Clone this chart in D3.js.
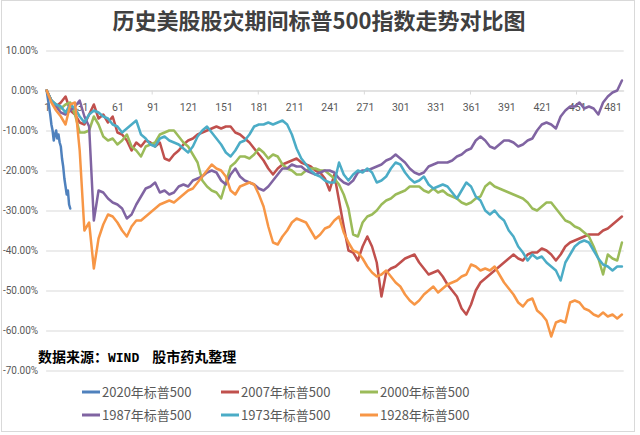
<!DOCTYPE html>
<html><head><meta charset="utf-8">
<script src="https://cdn.jsdelivr.net/npm/d3@7"></script>
<style>
body{margin:0;background:#fff;}
svg{display:block;font-family:"Noto Sans CJK SC","Noto Sans",sans-serif;}
</style>
</head><body><svg id="c" width="640" height="435"></svg>
<script>
const title = "历史美股股灾期间标普500指数走势对比图";
const sourceParts = ["数据来源：", "WIND", "股市药丸整理"];
const seriesNames = ["2020年标普500","2007年标普500","2000年标普500","1987年标普500","1973年标普500","1928年标普500"];
const seriesColors = ["#4F81BD","#C0504D","#9BBB59","#8064A2","#4BACC6","#F79646"];
const yTicks = [10,0,-10,-20,-30,-40,-50,-60,-70];
const xTickLabels = [1,31,61,91,121,151,181,211,241,271,301,331,361,391,421,451,481];
const dayCount = 490;
// 2020: daily values; others: one value every 4 trading days (day 1, 5, 9, ...)
const seriesSteps = [1,4,4,4,4,4];

const s2020 = [0,-2,-4,-6,-8.5,-10,-12.5,-11,-10,-12,-11,-13,-14,-17,-19,-22,-24,-26,-25,-28.5,-29.5];
const s2007 = [0,-2.5,-4,-3,-1.5,-5,-6,-8,-8.5,-6,
 -3.5,-7,-6,-8,-6.5,-10.5,-11,-12.5,-15,-13,
 -14,-12.5,-13,-14,-13,-17,-17.5,-16,-15,-13.5,
 -12.5,-12,-11,-10.5,-10,-9.5,-9,-9.5,-9,-9,
 -10.5,-11,-12,-13,-14.5,-16,-17.5,-19.5,-21,-19.5,
 -18.5,-18,-17.5,-17,-18,-18.5,-19,-20,-20.5,-22,
 -25,-21,-27.5,-34,-40,-40.5,-42.5,-39,-36.5,-39,
 -43,-51.5,-45.5,-44.5,-44,-43,-42,-41.5,-41,-43,
 -44.5,-46,-45.5,-45,-46.5,-48.5,-50,-51.5,-54.5,-56,
 -53.5,-50,-48,-47,-46,-45,-44,-43,-42,-41,
 -42,-42.5,-41,-40.5,-40.5,-39.5,-40,-41,-42.5,-41,
 -39,-38,-37.5,-37,-36.5,-36,-36,-36,-35,-34.5,
 -33.5,-32.5,-31.5];
const s2000 = [0,-2.5,-3.5,-4.5,-3.5,-3,-6,-10.5,-10.5,-10,
 -6.5,-8.5,-11.5,-12.5,-12,-13.5,-12.5,-11,-14,-15,
 -16.5,-14,-13.5,-13,-11,-10.5,-10,-10,-11.5,-13,
 -14,-16,-18,-22.5,-24,-25,-25.5,-27,-23,-19,
 -18,-16.5,-16.5,-17,-16,-14.5,-15.5,-17,-16,-16.5,
 -18.5,-19.5,-20,-21,-21,-20,-19.5,-19.5,-20,-20,
 -21,-22,-23.5,-26,-29.5,-36,-36.5,-33,-31.5,-31,
 -30,-28.5,-27.5,-27,-26,-25.5,-25,-24,-24,-24,
 -25,-25.5,-24.5,-25.5,-25,-26,-26.5,-27,-28,-28.5,
 -28,-27,-26.5,-24,-23,-24,-24.5,-25,-25.5,-26,
 -26.5,-27,-28,-29.5,-30,-29,-28,-28,-29.5,-31,
 -32.5,-33,-34,-34.5,-35.5,-36.5,-39,-42,-46,-41,
 -42,-42.5,-38];
const s1987 = [0,-2.5,-4,-5.5,-6,-5,-4,-2.5,-6.5,-9,
 -32.5,-25,-25.5,-27,-28,-28.5,-29.5,-32,-31,-28.5,
 -26.5,-24.5,-24,-23,-25.5,-25,-26,-25.5,-24,-23.5,
 -24,-22.5,-22,-21.5,-20.5,-20,-20.5,-22.5,-23.5,-21,
 -19.5,-21.5,-22.5,-23,-23.5,-24.5,-25,-24,-22.5,-21,
 -19.5,-19.5,-18.5,-19,-19,-20,-20.5,-21,-20.5,-20,
 -20,-20.5,-22,-23,-23.5,-22.5,-20.5,-20,-20,-19.5,
 -19,-18.5,-17.5,-17,-16,-17,-18,-19.5,-20.5,-21,
 -20.5,-19,-18.5,-18,-18,-18,-17.5,-16.5,-16,-15,
 -14.5,-12.5,-11.5,-12.5,-14,-14.5,-13.5,-12.5,-12.5,-13,
 -14,-13.5,-12.5,-12,-10,-8.5,-8,-8.5,-9.5,-6.5,
 -5,-4,-4,-3,-4.5,-4,-4.5,-6,-3,-1.5,
 -0.5,0,2.5];
const s1973 = [0,-2.5,-3.5,-4,-5.5,-3.5,-4.5,-6.5,-8,-6,
 -5,-5.5,-6.5,-7,-8.5,-9,-10.5,-9.5,-8.5,-7.5,
 -11,-12,-13.5,-14,-12,-11.5,-12.5,-13,-13.5,-14.5,
 -15.5,-14,-11.5,-10,-9,-10.5,-12,-13.5,-15.5,-16.5,
 -15,-13,-12.5,-11,-9,-8.5,-8.5,-8,-8.5,-8,
 -7.5,-8.5,-11,-14.5,-17,-18.5,-20,-21,-21.5,-22.5,
 -23,-23,-18,-21,-22.5,-21,-20,-20.5,-19.5,-20.5,
 -23,-22.5,-21.5,-19.5,-18,-18.5,-20.5,-22,-23,-22.5,
 -21.5,-23.5,-24.5,-24,-23.5,-24,-25.5,-27,-25,-23,
 -24,-26.5,-27.5,-30,-31,-30,-31.5,-32.5,-35,-36.5,
 -39,-40.5,-42.5,-41,-42,-41.5,-43,-44,-45,-47.5,
 -43,-41,-39,-38,-37.5,-38,-40,-42,-43.5,-44,
 -45,-44,-44];
const s1928 = [0,-3,-5,-6.5,-8.5,-3.5,-3,-15,-35,-33,
 -44.5,-37,-33.5,-31,-31.5,-33,-35,-36.5,-34,-32.5,
 -32.5,-31.5,-30.5,-29.5,-28.5,-28,-27.5,-28,-27,-26,
 -25,-24.5,-23,-21.5,-20,-18.5,-19.5,-20,-21.5,-25,
 -26,-24,-23.5,-23,-23.5,-26,-29,-34,-38,-38.5,
 -36.5,-35,-33,-32,-32.5,-33,-35,-37,-36,-34.5,
 -34,-32.5,-31.5,-35.5,-38,-40,-40.5,-42,-44,-45.5,
 -46.5,-46,-45,-46.5,-48,-49,-51,-52.5,-53.5,-52.5,
 -51,-50,-49,-50.5,-49.5,-48.5,-48,-47.5,-46.5,-46,
 -43.5,-44,-45,-44.5,-45,-44,-46,-48,-49.5,-51,
 -53,-54,-52.5,-52,-55,-56,-57.5,-61.5,-58,-57.5,
 -58,-53,-52.5,-53,-54.5,-55,-56,-56.5,-55.5,-56.5,
 -56,-57,-56];
const seriesValues = [s2020,s2007,s2000,s1987,s1973,s1928];

const svg = d3.select("#c");
const plotLeft = 46.1, plotRight = 623.7, plotTop = 50.5, plotBottom = 370.5;
const x = d3.scaleLinear().domain([0.5, dayCount + 0.5]).range([plotLeft, plotRight]);
const y = d3.scaleLinear().domain([-70, 10]).range([plotBottom, plotTop]);
const axisFont = "Roboto,'Liberation Sans',sans-serif";

// border
svg.append("rect").attr("x",1.5).attr("y",0.5).attr("width",633).attr("height",431)
  .attr("fill","#fff").attr("stroke","#d9d9d9");

// title
svg.append("text").attr("x",319).attr("y",29).attr("text-anchor","middle")
  .attr("font-size",22).attr("font-weight","bold").attr("fill","#404040").text(title);

// gridlines
const grid = svg.append("g").attr("transform",`translate(${plotLeft},0)`)
  .call(d3.axisLeft(y).tickValues(yTicks).tickSize(-(plotRight-plotLeft)).tickFormat(""));
grid.select(".domain").remove();
grid.selectAll("line").attr("stroke","#d9d9d9");

// y labels
const ya = svg.append("g").attr("transform",`translate(${plotLeft},0)`)
  .call(d3.axisLeft(y).tickValues(yTicks).tickSize(0).tickPadding(8).tickFormat(d => d.toFixed(2) + "%"));
ya.select(".domain").remove();
ya.selectAll("text").attr("font-size",10).attr("fill","#595959").attr("font-family",axisFont);

// x axis at 0%
const xa = svg.append("g").attr("transform",`translate(0,${y(0)})`)
  .call(d3.axisBottom(x).tickValues(xTickLabels).tickSize(0).tickPadding(13).tickFormat(d3.format("d")));
xa.select(".domain").attr("stroke","#d9d9d9");
xa.selectAll("text").attr("font-size",10.5).attr("fill","#595959").attr("font-family",axisFont);
const tickBounds = [90,180,270,360,450];
svg.append("g").selectAll("line").data(tickBounds).join("line")
  .attr("x1", d => x(d + 0.5)).attr("x2", d => x(d + 0.5))
  .attr("y1", y(0)).attr("y2", y(0) + 4).attr("stroke","#d9d9d9");

// lines
const lineGen = step => d3.line().x((d,i) => x(1 + i*step)).y(d => y(d));
svg.append("g").selectAll("path").data(seriesValues).join("path")
  .attr("d", (d,i) => lineGen(seriesSteps[i])(d))
  .attr("fill","none").attr("stroke",(d,i) => seriesColors[i])
  .attr("stroke-width",2.5).attr("stroke-linejoin","round").attr("stroke-linecap","round");

// source note
const note = svg.append("text").attr("x",38).attr("y",362).attr("font-size",14).attr("font-weight","bold").attr("fill","#000");
note.append("tspan").text(sourceParts[0]);
note.append("tspan").attr("font-family","'Liberation Mono','DejaVu Sans Mono',monospace").attr("font-size",13).text(sourceParts[1]);
note.append("tspan").attr("dx",13).text(sourceParts[2]);

// legend
const colX = [82,221,360], rowY = [392,415];
const lg = svg.append("g").selectAll("g").data(seriesNames).join("g")
  .attr("transform",(d,i) => `translate(${colX[i%3]},${rowY[Math.floor(i/3)]})`);
lg.append("line").attr("x1",0).attr("x2",18).attr("y1",0).attr("y2",0)
  .attr("stroke",(d,i) => seriesColors[i]).attr("stroke-width",3);
lg.append("text").attr("x",20).attr("dy","0.36em").attr("font-size",13).attr("fill","#595959").text(d => d);
</script>
</body></html>
